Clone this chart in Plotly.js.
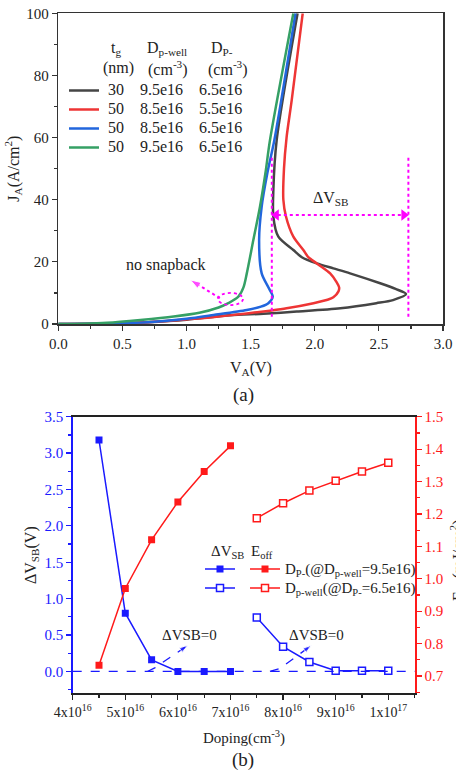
<!DOCTYPE html>
<html>
<head>
<meta charset="utf-8">
<script src="https://cdn.plot.ly/plotly-3.0.1.min.js"></script>
<style>html,body{margin:0;padding:0;background:#fff;}#chart{width:456px;height:774px;}</style>
</head>
<body>
<div id="chart"></div>
<script>
// ---------- (a) J-V curves ----------
const curveTg = ['30', '50', '50', '50'];
const curveDpwell = ['9.5e16', '8.5e16', '8.5e16', '9.5e16'];
const curveDpminus = ['6.5e16', '5.5e16', '6.5e16', '6.5e16'];

const vBlack = [0, 0.4, 0.7, 1.0, 1.34, 1.6, 1.86, 2.2, 2.48, 2.61, 2.712, 2.63, 2.51, 2.275, 2.145, 2.016, 1.899, 1.833, 1.716, 1.677, 1.677, 1.703, 1.866];
const jBlack = [0, 0.15, 0.6, 1.4, 2.8, 3.3, 4.0, 5.05, 6.7, 7.7, 9.65, 11.3, 13.1, 16.3, 17.9, 19.5, 21.5, 23.8, 28.1, 34.5, 43.1, 59.2, 100];

const vRed = [0, 0.4, 0.7, 1.0, 1.2, 1.47, 1.65, 1.78, 1.99, 2.1, 2.145, 2.185, 2.19, 2.17, 2.12, 2.016, 1.95, 1.911, 1.833, 1.776, 1.755, 1.76, 1.78, 1.82, 1.906];
const jRed = [0, 0.15, 0.6, 1.5, 2.2, 3.4, 4.3, 5.05, 6.7, 7.8, 8.6, 10.5, 11.8, 13.5, 16.3, 19.5, 21.5, 23.8, 28.1, 34.5, 40, 50, 60, 72, 100];

const vBlue = [0, 0.4, 0.7, 1.0, 1.21, 1.47, 1.58, 1.638, 1.672, 1.638, 1.586, 1.566, 1.586, 1.63, 1.685, 1.85];
const jBlue = [0, 0.15, 0.6, 1.7, 2.9, 4.5, 5.6, 6.7, 8.8, 11.8, 16.3, 27, 37.8, 48.5, 59.2, 100];

const vGreen = [0, 0.2, 0.38, 0.64, 0.9, 1.1, 1.25, 1.326, 1.404, 1.444, 1.47, 1.521, 1.573, 1.615, 1.651, 1.833];
const jGreen = [0, 0.1, 0.4, 1.3, 2.4, 3.6, 5.3, 6.7, 8.8, 11.8, 16.3, 27, 37.8, 48.5, 59.2, 100];

// ---------- (b) doping sweep ----------
const xTickVals = [4e16, 5e16, 6e16, 7e16, 8e16, 9e16, 1e17];
const xTickText = ['4x10<sup>16</sup>', '5x10<sup>16</sup>', '6x10<sup>16</sup>', '7x10<sup>16</sup>', '8x10<sup>16</sup>', '9x10<sup>16</sup>', '1x10<sup>17</sup>'];

const dopingDP = [4.5e16, 5e16, 5.5e16, 6e16, 6.5e16, 7e16];
const dvsbDP = [3.18, 0.80, 0.16, 0, 0, 0];
const eoffDP = [0.733, 0.970, 1.120, 1.237, 1.331, 1.410];

const dopingPW = [7.5e16, 8e16, 8.5e16, 9e16, 9.5e16, 1e17];
const dvsbPW = [0.74, 0.34, 0.13, 0.01, 0.01, 0.01];
const eoffPW = [1.187, 1.233, 1.272, 1.302, 1.331, 1.358];

const legendDP = 'D<sub>P-</sub>(@D<sub>p-well</sub>=9.5e16)';
const legendPW = 'D<sub>p-well</sub>(@D<sub>P-</sub>=6.5e16)';

// ---------- helpers ----------
const W = 456, H = 774;
const px = v => v / W;
const py = v => 1 - v / H;
const FONT = 'Liberation Serif';
const NB = '\u00A0';
const sp = n => NB.repeat(n);
const MAG = '#ff00ff';
const BLUE = '#1a1aff';
const RED = '#ff1a1a';
const INK = '#222222';

const curveColors = ['#454545', '#ee3535', '#2266dd', '#35a065'];
const curveV = [vBlack, vRed, vBlue, vGreen];
const curveJ = [jBlack, jRed, jBlue, jGreen];

const traces = [];
for (let i = 0; i < 4; i++) {
  traces.push({
    x: curveV[i], y: curveJ[i], xaxis: 'x', yaxis: 'y', type: 'scatter', mode: 'lines',
    line: {color: curveColors[i], width: 2.5, shape: 'spline', smoothing: 0.8},
    name: '<span style="font-size:16px">' + NB + curveTg[i] + sp(4) + curveDpwell[i] + sp(4) + curveDpminus[i] + '</span>',
    legend: 'legend', showlegend: true
  });
}

// magenta annotation marks in (a)
traces.push({x: [1.665, 2.73], y: [35.1, 35.1], xaxis: 'x', yaxis: 'y', mode: 'lines',
  line: {color: MAG, width: 2, dash: 'dot'}, showlegend: false});
traces.push({x: [1.70, 2.695], y: [35.1, 35.1], xaxis: 'x', yaxis: 'y', mode: 'markers',
  marker: {symbol: ['triangle-left', 'triangle-right'], size: 10, color: MAG}, showlegend: false});
traces.push({x: [1.26, 1.03], y: [8.3, 14.2], xaxis: 'x', yaxis: 'y', mode: 'lines+markers',
  line: {color: MAG, width: 2, dash: 'dot'},
  marker: {symbol: 'arrow', angleref: 'previous', size: [0, 11], color: MAG}, showlegend: false});

// (b) traces
traces.push({x: dopingDP, y: dvsbDP, xaxis: 'x2', yaxis: 'y2', mode: 'lines+markers',
  line: {color: BLUE, width: 1.5}, marker: {symbol: 'square', size: 7, color: BLUE},
  name: NB, legend: 'legend3'});
traces.push({x: dopingPW, y: dvsbPW, xaxis: 'x2', yaxis: 'y2', mode: 'lines+markers',
  line: {color: BLUE, width: 1.5}, marker: {symbol: 'square', size: 7, color: '#ffffff', line: {color: BLUE, width: 1.5}},
  name: NB, legend: 'legend3'});
traces.push({x: dopingDP, y: eoffDP, xaxis: 'x2', yaxis: 'y3', mode: 'lines+markers',
  line: {color: RED, width: 1.5}, marker: {symbol: 'square', size: 7, color: RED},
  name: '<span style="font-size:15px">' + legendDP + '</span>', legend: 'legend2'});
traces.push({x: dopingPW, y: eoffPW, xaxis: 'x2', yaxis: 'y3', mode: 'lines+markers',
  line: {color: RED, width: 1.5}, marker: {symbol: 'square', size: 7, color: '#ffffff', line: {color: RED, width: 1.5}},
  name: '<span style="font-size:15px">' + legendPW + '</span>', legend: 'legend2'});

// dashed arrows "ΔVSB=0"
traces.push({x: [5.42e16, 5.56e16, 6.19e16], y: [0.0, 0.05, 0.36], xaxis: 'x2', yaxis: 'y2', mode: 'lines+markers',
  line: {color: BLUE, width: 1.3, dash: 'dash'},
  marker: {symbol: 'arrow', angleref: 'previous', size: [0, 0, 9], color: BLUE}, showlegend: false});
traces.push({x: [7.75e16, 7.94e16, 8.54e16], y: [0.0, 0.04, 0.36], xaxis: 'x2', yaxis: 'y2', mode: 'lines+markers',
  line: {color: BLUE, width: 1.3, dash: 'dash'},
  marker: {symbol: 'arrow', angleref: 'previous', size: [0, 0, 9], color: BLUE}, showlegend: false});

const tickFont = {family: FONT, size: 15, color: INK};
const titleFont = {family: FONT, size: 16, color: INK};

function note(x, y, text, font, extra) {
  return Object.assign({xref: 'paper', yref: 'paper', x: px(x), y: py(y), text: text, showarrow: false,
    xanchor: 'center', yanchor: 'middle', font: font}, extra || {});
}

const layout = {
  width: W, height: H,
  margin: {l: 0, r: 0, t: 0, b: 0},
  paper_bgcolor: '#ffffff', plot_bgcolor: '#ffffff',
  font: {family: FONT, color: INK},
  xaxis: {
    domain: [px(58.3), px(443)], anchor: 'y', range: [0, 3], dtick: 0.5, tick0: 0, tickformat: '.1f',
    ticks: 'outside', ticklen: 5, tickwidth: 1.2, tickcolor: '#333',
    minor: {dtick: 0.25, tick0: 0, ticks: 'outside', ticklen: 3, tickcolor: '#333'},
    showline: true, linecolor: '#333', linewidth: 1.5, mirror: true,
    showgrid: false, zeroline: false, tickfont: tickFont, automargin: false
  },
  yaxis: {
    domain: [py(324), py(13.3)], anchor: 'x', range: [0, 100], dtick: 20, tick0: 0,
    ticks: 'outside', ticklen: 5, tickwidth: 1.2, tickcolor: '#333',
    minor: {dtick: 10, tick0: 0, ticks: 'outside', ticklen: 3, tickcolor: '#333'},
    showline: true, linecolor: '#333', linewidth: 1.5, mirror: true,
    showgrid: false, zeroline: false, tickfont: tickFont, automargin: false
  },
  xaxis2: {
    domain: [px(72.7), px(415)], anchor: 'y2', range: [4e16, 1.0508e17],
    tickmode: 'array', tickvals: xTickVals, ticktext: xTickText,
    ticks: 'outside', ticklen: 5, tickwidth: 1.2, tickcolor: INK,
    minor: {dtick: 5e15, tick0: 4e16, ticks: 'outside', ticklen: 3, tickcolor: INK},
    showline: true, linecolor: INK, linewidth: 1.5, mirror: true,
    showgrid: false, zeroline: false, tickfont: {family: FONT, size: 14, color: INK}, automargin: false
  },
  yaxis2: {
    domain: [py(693.3), py(416.7)], anchor: 'x2', range: [-0.3, 3.5], dtick: 0.5, tick0: 0, tickformat: '.1f',
    ticks: 'outside', ticklen: 5, tickwidth: 1.2, tickcolor: BLUE,
    minor: {dtick: 0.25, tick0: 0, ticks: 'outside', ticklen: 3, tickcolor: BLUE},
    showline: true, linecolor: BLUE, linewidth: 1.5,
    showgrid: false, zeroline: false, tickfont: {family: FONT, size: 15, color: BLUE}, automargin: false
  },
  yaxis3: {
    overlaying: 'y2', side: 'right', anchor: 'x2', range: [0.6466, 1.5], dtick: 0.1, tick0: 0, tickformat: '.1f',
    ticks: 'outside', ticklen: 5, tickwidth: 1.2, tickcolor: RED,
    minor: {dtick: 0.05, tick0: 0, ticks: 'outside', ticklen: 3, tickcolor: RED},
    showline: true, linecolor: RED, linewidth: 1.5,
    showgrid: false, zeroline: false, tickfont: {family: FONT, size: 15, color: RED}, automargin: false
  },
  legend: {
    x: px(64), xanchor: 'left', y: py(76), yanchor: 'top',
    bgcolor: 'rgba(0,0,0,0)', borderwidth: 0, font: {family: FONT, size: 12.3, color: INK},
    tracegroupgap: 0
  },
  legend2: {
    x: px(245), xanchor: 'left', y: py(554.5), yanchor: 'top',
    bgcolor: 'rgba(0,0,0,0)', borderwidth: 0, font: {family: FONT, size: 12, color: INK},
    tracegroupgap: 0
  },
  legend3: {
    x: px(200), xanchor: 'left', y: py(554.5), yanchor: 'top',
    bgcolor: 'rgba(0,0,0,0)', borderwidth: 0, font: {family: FONT, size: 12, color: INK},
    tracegroupgap: 0
  },
  shapes: [
    {type: 'line', xref: 'x', yref: 'y', x0: 1.665, x1: 1.665, y0: 2.3, y1: 54.2, line: {color: MAG, width: 2, dash: 'dot'}},
    {type: 'line', xref: 'x', yref: 'y', x0: 2.73, x1: 2.73, y0: 2.3, y1: 54.4, line: {color: MAG, width: 2, dash: 'dot'}},
    {type: 'circle', xref: 'x', yref: 'y', x0: 1.245, x1: 1.44, y0: 6.1, y1: 10, line: {color: MAG, width: 1.8, dash: 'dot'}},
    {type: 'line', xref: 'x2 domain', yref: 'y2', x0: 0, x1: 1, y0: 0, y1: 0, line: {color: BLUE, width: 1.3, dash: 'dash'}}
  ],
  annotations: [
    // legend header of (a)
    note(115.8, 48, 't<sub>g</sub>', titleFont),
    note(166.7, 48, 'D<sub>p-well</sub>', titleFont),
    note(221.7, 48, 'D<sub>P-</sub>', titleFont),
    note(118.3, 68.3, '(nm)', titleFont),
    note(167.5, 68.3, '(cm<sup>-3</sup>)', titleFont),
    note(227.5, 68.3, '(cm<sup>-3</sup>)', titleFont),
    // axis titles of (a)
    note(250.6, 369, 'V<sub>A</sub>(V)', titleFont),
    note(13, 168.7, 'J<sub>A</sub>(A/cm<sup>2</sup>)', titleFont, {textangle: -90}),
    // in-plot notes of (a)
    {xref: 'x', yref: 'y', x: 0.84, y: 19, text: 'no snapback', showarrow: false, xanchor: 'center', yanchor: 'middle', font: titleFont},
    {xref: 'x', yref: 'y', x: 2.125, y: 40.4, text: 'ΔV<sub>SB</sub>', showarrow: false, xanchor: 'center', yanchor: 'middle', font: titleFont},
    note(243, 395, '(a)', {family: FONT, size: 19, color: INK}),
    // (b)
    note(243.8, 737, 'Doping(cm<sup>-3</sup>)', {family: FONT, size: 15, color: INK}),
    note(31, 555, 'ΔV<sub>SB</sub>(V)', titleFont, {textangle: -90}),
    note(458, 560, 'E<sub>off</sub>(mJ/cm<sup>2</sup>)', titleFont, {textangle: -90}),
    note(243, 760, '(b)', {family: FONT, size: 19, color: INK}),
    note(227.5, 552, 'ΔV<sub>SB</sub>', {family: FONT, size: 15, color: INK}),
    note(262, 552, 'E<sub>off</sub>', {family: FONT, size: 15, color: INK}),
    {xref: 'x2', yref: 'y2', x: 6.23e16, y: 0.5, text: 'ΔVSB=0', showarrow: false, xanchor: 'center', yanchor: 'middle', font: {family: FONT, size: 15, color: INK}},
    {xref: 'x2', yref: 'y2', x: 8.64e16, y: 0.5, text: 'ΔVSB=0', showarrow: false, xanchor: 'center', yanchor: 'middle', font: {family: FONT, size: 15, color: INK}}
  ]
};

Plotly.newPlot('chart', traces, layout, {staticPlot: true, displayModeBar: false});
</script>
</body>
</html>
